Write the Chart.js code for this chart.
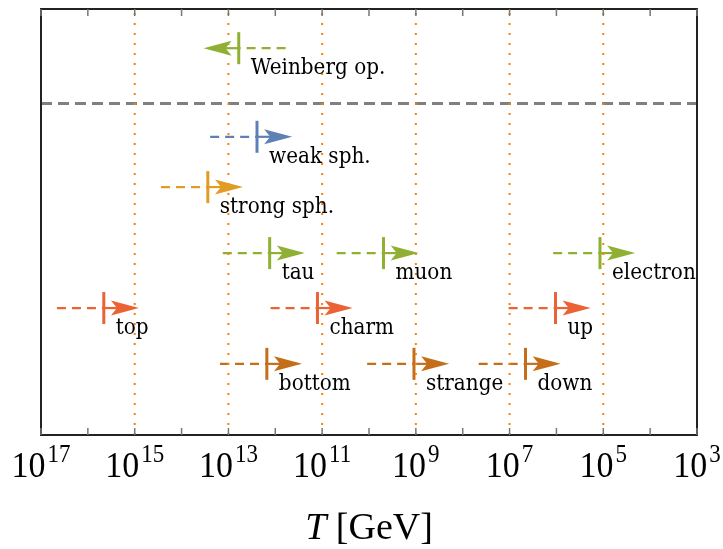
<!DOCTYPE html>
<html>
<head>
<meta charset="utf-8">
<script src="https://cdn.jsdelivr.net/npm/chart.js@4.4.1/dist/chart.umd.min.js"></script>
<style>body{margin:0;background:#fff}</style>
</head>
<body>
<canvas id="c" width="723" height="549"></canvas>
<script>
// processes and the temperature (log10 of T in GeV) at which each one comes into equilibrium
const names   = ['Weinberg op.', 'weak sph.', 'strong sph.', 'tau', 'muon', 'electron', 'top', 'charm', 'up', 'bottom', 'strange', 'down'];
const logT    = [12.78, 12.39, 13.44, 12.12, 9.69, 5.07, 15.66, 11.10, 6.02, 12.18, 9.04, 6.66];
const rowY    = [9.08, 7.0, 5.82, 4.27, 4.27, 4.27, 2.98, 2.98, 2.98, 1.67, 1.67, 1.67];
// +1 = arrow points to lower T, -1 = to higher T
const dir     = [-1, 1, 1, 1, 1, 1, 1, 1, 1, 1, 1, 1];
const group   = ['green', 'blue', 'orange', 'green', 'green', 'green', 'red', 'red', 'red', 'brown', 'brown', 'brown'];

const sepY      = 7.78;                        // grey dashed separator
const guideLogT = [15, 13, 11, 9, 7, 5];       // orange dotted lines
const tickLogT  = [3,4,5,6,7,8,9,10,11,12,13,14,15,16,17];
const labelExp  = [17, 15, 13, 11, 9, 7, 5, 3];

const palette = {
  blue: '#5E81B5', orange: '#E19C24', green: '#8FB032', red: '#EB6235', brown: '#C56E1A'
};
const DASH_LEN = 1, ARROW_LEN = 0.75;

const datasets = [];

guideLogT.forEach(v => datasets.push({
  data: [{x: 10 ** v, y: 0}, {x: 10 ** v, y: 10}],
  borderColor: '#FF8000', borderWidth: 2, borderDash: [2, 8], pointRadius: 0
}));

datasets.push({
  data: [{x: 1e17, y: sepY}, {x: 1e3, y: sepY}],
  borderColor: '#808080', borderWidth: 3, borderDash: [11, 6], pointRadius: 0
});

names.forEach((n, i) => {
  const c = palette[group[i]];
  // dashed part before the onset
  datasets.push({
    data: [{x: 10 ** (logT[i] + dir[i] * DASH_LEN), y: rowY[i]}, {x: 10 ** logT[i], y: rowY[i]}],
    borderColor: c, borderWidth: 2.2, borderDash: [9, 6], pointRadius: 0
  });
  // solid part with the bar at the onset
  datasets.push({
    data: [{x: 10 ** logT[i], y: rowY[i]}, {x: 10 ** (logT[i] - dir[i] * ARROW_LEN * 0.8), y: rowY[i]}],
    borderColor: c, borderWidth: 2.2,
    pointRadius: [16, 0], pointStyle: 'line', rotation: 90,
    pointBorderColor: c, pointBorderWidth: 3
  });
});

const serif = '"Liberation Serif", "Times New Roman", serif';
const labelFont = '20px "DejaVu Serif", serif';

// text stretched vertically like the original export
function tallText(ctx, txt, x, y, sy) {
  ctx.save();
  ctx.translate(x, y);
  ctx.scale(1, sy);
  ctx.fillText(txt, 0, 0);
  ctx.restore();
}

const overlay = {
  id: 'overlay',
  afterDatasetsDraw(chart) {
    const {ctx, chartArea: a, scales: {x, y}} = chart;
    ctx.save();

    // arrow heads and labels
    names.forEach((n, i) => {
      const t0 = x.getPixelForValue(10 ** logT[i]);
      const tip = x.getPixelForValue(10 ** (logT[i] - dir[i] * ARROW_LEN));
      const py = y.getPixelForValue(rowY[i]);
      const s = Math.sign(tip - t0);
      ctx.fillStyle = palette[group[i]];
      ctx.beginPath();
      ctx.moveTo(tip, py);
      ctx.lineTo(tip - s * 28, py - 7.5);
      ctx.lineTo(tip - s * 22, py);
      ctx.lineTo(tip - s * 28, py + 7.5);
      ctx.closePath();
      ctx.fill();

      ctx.fillStyle = '#000';
      ctx.font = labelFont;
      ctx.textBaseline = 'alphabetic';
      ctx.textAlign = 'left';
      tallText(ctx, n, t0 + 12, py + 26, 1.15);
    });

    // frame
    ctx.strokeStyle = '#222';
    ctx.lineWidth = 2;
    ctx.strokeRect(a.left, a.top, a.right - a.left, a.bottom - a.top);

    // inward ticks top and bottom
    ctx.strokeStyle = '#777';
    ctx.lineWidth = 1.5;
    tickLogT.forEach(v => {
      const px = x.getPixelForValue(10 ** v);
      ctx.beginPath();
      ctx.moveTo(px, a.top); ctx.lineTo(px, a.top + 7);
      ctx.moveTo(px, a.bottom); ctx.lineTo(px, a.bottom - 7);
      ctx.stroke();
    });

    // tick labels 10^n
    ctx.fillStyle = '#000';
    labelExp.forEach(e => {
      const px = x.getPixelForValue(10 ** e);
      ctx.font = '34px ' + serif;
      const w1 = ctx.measureText('10').width;
      ctx.font = '23px ' + serif;
      const w2 = ctx.measureText(String(e)).width;
      const x0 = px - (w1 + w2 + 2) / 2;
      ctx.font = '34px ' + serif;
      tallText(ctx, '10', x0, 477, 1.06);
      ctx.font = '23px ' + serif;
      tallText(ctx, String(e), x0 + w1 + 2, 462, 1.06);
    });

    // axis title
    ctx.font = 'italic 38px ' + serif;
    const wT = ctx.measureText('T').width;
    ctx.font = '38px ' + serif;
    const wR = ctx.measureText(' [GeV]').width;
    const cx = (a.left + a.right) / 2 - (wT + wR) / 2;
    ctx.font = 'italic 38px ' + serif;
    ctx.fillText('T', cx, 539);
    ctx.font = '38px ' + serif;
    ctx.fillText(' [GeV]', cx + wT, 539);

    ctx.restore();
  }
};

new Chart(document.getElementById('c'), {
  type: 'line',
  data: {datasets},
  options: {
    responsive: false,
    animation: false,
    events: [],
    layout: {autoPadding: false, padding: {left: 41, right: 26, top: 9, bottom: 114}},
    plugins: {legend: {display: false}, tooltip: {enabled: false}},
    scales: {
      x: {type: 'logarithmic', reverse: true, min: 1e3, max: 1e17, display: false},
      y: {type: 'linear', min: 0, max: 10, display: false}
    }
  },
  plugins: [overlay]
});
</script>
</body>
</html>
